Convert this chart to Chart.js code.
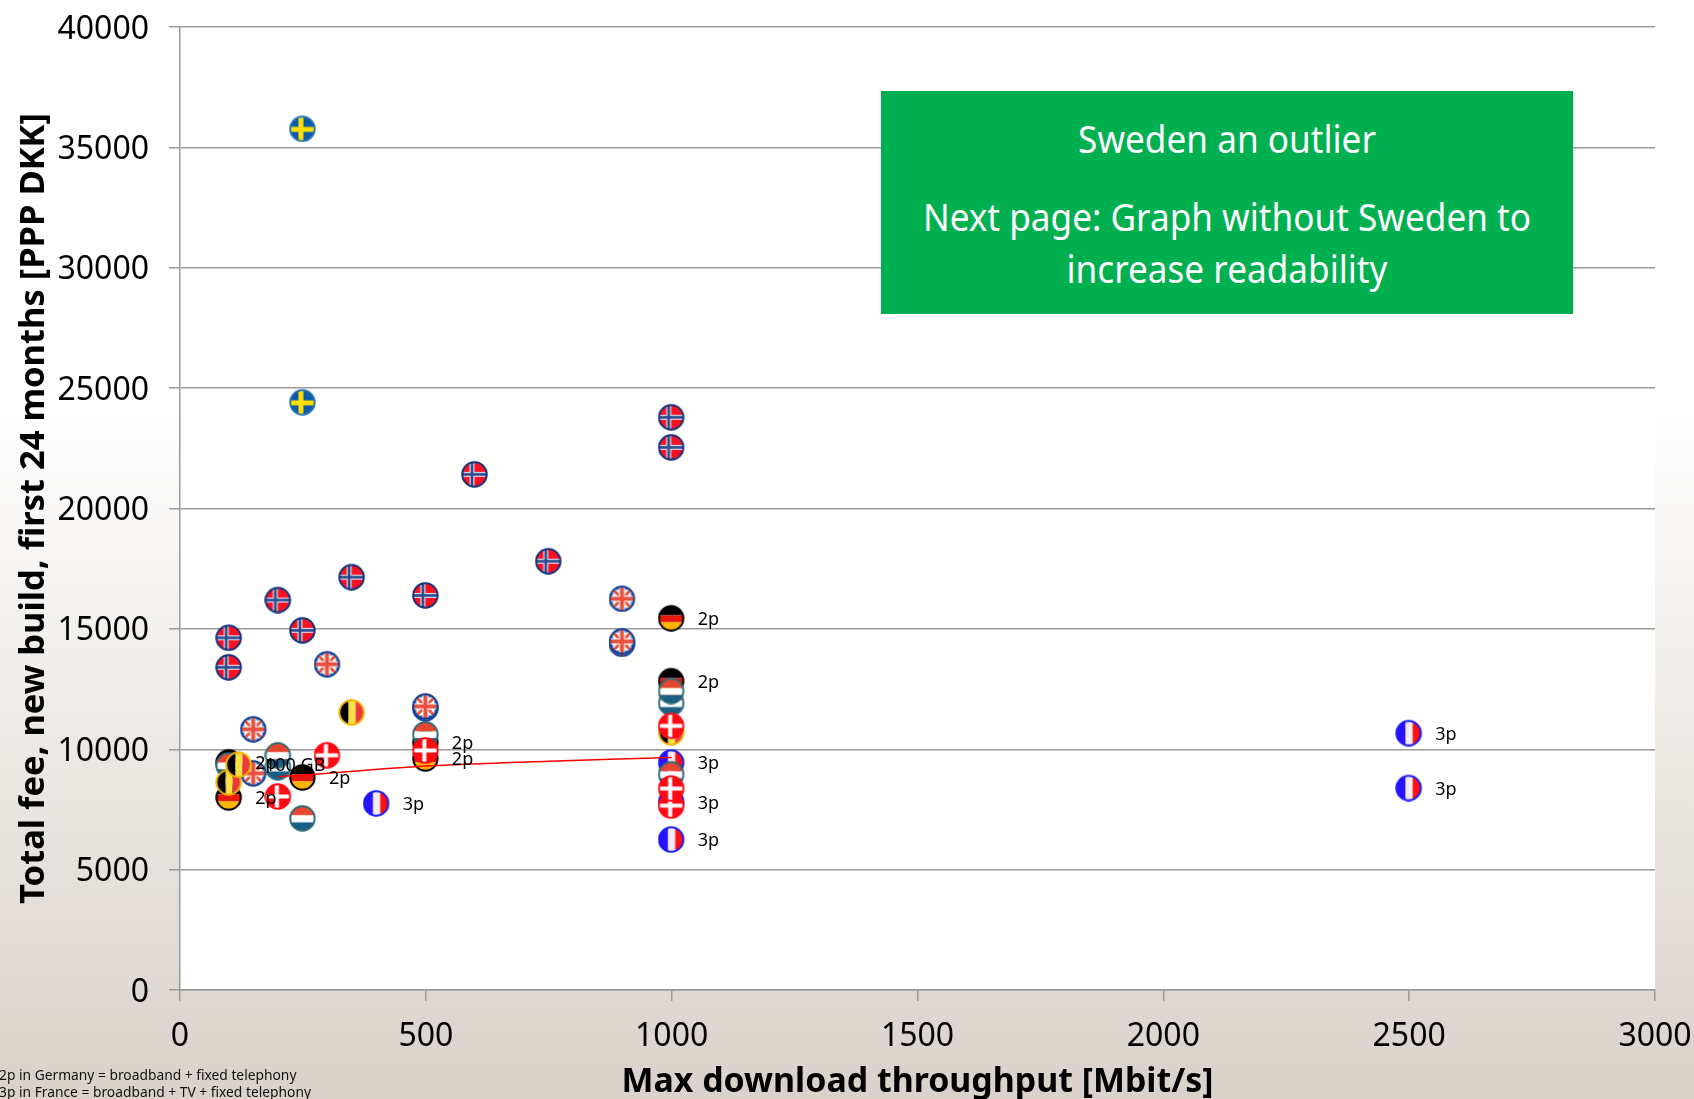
<!DOCTYPE html>
<html><head><meta charset="utf-8">
<script src="https://cdn.jsdelivr.net/npm/chart.js@4"></script>
<style>
html,body{margin:0;padding:0;width:1694px;height:1099px;overflow:hidden}
body{background:linear-gradient(to bottom,#fff 0,#fff 37%,#d9d2ca 100%);position:relative;font-family:"Noto Sans",sans-serif}
#c{position:absolute;left:0;top:0}
#box{position:absolute;left:881px;top:91px;width:692px;height:223px;background:#00b050;color:#fff;text-align:center;font-size:38px}
#box div{position:absolute;left:0;right:0;line-height:52px;white-space:nowrap;transform:scaleX(.925)}
#note{position:absolute;left:-1px;top:1067px;font-size:13.8px;line-height:16.5px;color:#111;white-space:nowrap}
</style></head><body>
<canvas id="c" width="1694" height="1099"></canvas>
<div id="box"><div style="top:21px">Sweden an outlier</div><div style="top:99px">Next page: Graph without Sweden to</div><div style="top:151px">increase readability</div></div>
<div id="note">2p in Germany = broadband + fixed telephony<br>3p in France = broadband + TV + fixed telephony</div>
<script>
const xTickValues=[0,500,1000,1500,2000,2500,3000];
const yTickValues=[0,5000,10000,15000,20000,25000,30000,35000,40000];
const xAxisTitle='Max download throughput [Mbit/s]';
const yAxisTitle='Total fee, new build, first 24 months [PPP DKK]';

const trendX=[200,250,300,500,750,1000];
const trendY=[8860,8930,9000,9300,9500,9660];

const swedenX=[250,250];
const swedenY=[35790,24430];
const norwayX=[100,100,200,250,350,500,600,750,1000,1000];
const norwayY=[14650,13425,16220,14960,17170,16410,21440,17830,23810,22560];
const ukX=[150,150,300,500,500,900,900,900];
const ukY=[10850,9020,13550,11720,11800,16270,14400,14500];
const germanyX=[100,100,250,500,500,1000,1000];
const germanyY=[9480,8020,8850,10300,9640,15460,12850];
const germanyLabels=['2p','2p','2p','2p','2p','2p','2p'];
const belgiumX=[350,1000,100,120];
const belgiumY=[11550,10720,8650,9380];
const belgiumLabels=['','','','100 GB'];
const netherlandsX=[100,200,250,500,1000,1000,1000];
const netherlandsY=[9350,9770,7150,10640,8980,11940,12440];
const netherlandsBackX=[200];
const netherlandsBackY=[9270];
const denmarkX=[200,300,500,1000,1000,1000];
const denmarkY=[8060,9770,9970,10990,7680,8390];
const franceX=[400,1000,1000,1000,2500,2500];
const franceY=[7770,9470,7830,6270,10690,8410];
const franceLabels=['3p','3p','3p','3p','3p','3p'];

function flag(paint,border){
  const s=28,c=document.createElement('canvas');c.width=c.height=s;
  const g=c.getContext('2d');
  g.translate(-0.5,0.5);
  g.save();g.beginPath();g.arc(14,14,12.2,0,Math.PI*2);g.clip();
  paint(g);g.restore();
  g.beginPath();g.arc(14,14,12.2,0,Math.PI*2);
  g.lineWidth=2;g.strokeStyle=border;g.stroke();
  return c;
}
const rect=(g,col,x,y,w,h)=>{g.fillStyle=col;g.fillRect(x,y,w,h)};
const iconSweden=flag(g=>{rect(g,'#0b5aa8',0,0,28,28);rect(g,'#ffe000',0,12,28,5);rect(g,'#ffe000',10,0,5,28)},'#2a74b8');
const iconNorway=flag(g=>{rect(g,'#ff1020',0,0,28,28);rect(g,'#d8dcf0',0,11.5,28,5);rect(g,'#d8dcf0',9,0,5,28);rect(g,'#2b4a8c',0,12.7,28,2.6);rect(g,'#2b4a8c',10.2,0,2.6,28)},'#10307a');
const iconUK=flag(g=>{rect(g,'#fff',0,0,28,28);
  g.fillStyle='#2f64ac';
  [[5,1,7,4],[5,23,7,4],[16,1,7,4],[16,23,7,4],[1,5,4,7],[23,5,4,7],[1,16,4,7],[23,16,4,7]].forEach(r=>g.fillRect(...r));
  g.strokeStyle='#e8513f';g.lineWidth=3;g.beginPath();g.moveTo(2,2);g.lineTo(26,26);g.moveTo(26,2);g.lineTo(2,26);g.stroke();
  rect(g,'#fff',0,11,28,6);rect(g,'#fff',11,0,6,28);rect(g,'#e8513f',0,12,28,4);rect(g,'#e8513f',12,0,4,28)},'#123f99');
const iconGermany=flag(g=>{rect(g,'#000',0,0,28,11);rect(g,'#e8180c',0,11,28,7);rect(g,'#ffb400',0,18,28,10)},'#000');
const iconBelgium=flag(g=>{rect(g,'#000',0,0,11,28);rect(g,'#fbe044',11,0,7,28);rect(g,'#e83a3f',18,0,10,28)},'#f5b400');
const iconNetherlands=flag(g=>{rect(g,'#e8452f',0,0,28,11);rect(g,'#fff',0,11,28,7);rect(g,'#1a5f85',0,18,28,10)},'#2e6b78');
const iconDenmark=flag(g=>{rect(g,'#ff0a14',0,0,28,28);rect(g,'#fff',0,12,28,4);rect(g,'#fff',11,0,4,28)},'#ff0a14');
const iconFrance=flag(g=>{rect(g,'#2a10ff',0,0,11,28);rect(g,'#f2ecf6',11,0,7,28);rect(g,'#ff1010',18,0,10,28)},'#1a1aff');

const pts=(xs,ys)=>xs.map((x,i)=>({x,y:ys[i]}));
const set=(name,xs,ys,icon,labels)=>({label:name,data:pts(xs,ys),pointStyle:icon,pointRadius:13,showLine:false,pointLabels:labels});

const paperPlugin={id:'paper',beforeDraw(ch){const a=ch.chartArea,x=ch.ctx;x.save();x.fillStyle='#fff';x.fillRect(a.left,a.top,a.width,a.height);x.restore();}};
const labelPlugin={id:'pointText',afterDatasetsDraw(ch){
  const x=ch.ctx,sx=ch.scales.x,sy=ch.scales.y;
  x.save();x.font='18px "Noto Sans"';x.fillStyle='#000';x.textBaseline='middle';x.textAlign='left';
  ch.data.datasets.forEach(d=>{(d.pointLabels||[]).forEach((t,i)=>{
    if(t)x.fillText(t,sx.getPixelForValue(d.data[i].x)+26,sy.getPixelForValue(d.data[i].y)+2);
  });});
  x.restore();}};
const noPad=s=>{s.paddingLeft=s.paddingRight=s.paddingTop=s.paddingBottom=0};
const plain=v=>String(v);

new Chart(document.getElementById('c'),{
  type:'scatter',
  data:{datasets:[
    {label:'Trend',data:pts(trendX,trendY),showLine:true,borderColor:'#ff0000',borderWidth:1.5,pointRadius:0,tension:0.3,fill:false},
    set('Denmark',denmarkX,denmarkY,iconDenmark),
    set('Belgium',belgiumX,belgiumY,iconBelgium,belgiumLabels),
    set('Netherlands',netherlandsX,netherlandsY,iconNetherlands),
    set('Germany',germanyX,germanyY,iconGermany,germanyLabels),
    set('Netherlands (2)',netherlandsBackX,netherlandsBackY,iconNetherlands),
    set('UK',ukX,ukY,iconUK),
    set('France',franceX,franceY,iconFrance,franceLabels),
    set('Norway',norwayX,norwayY,iconNorway),
    set('Sweden',swedenX,swedenY,iconSweden)
  ]},
  plugins:[paperPlugin,labelPlugin],
  options:{
    responsive:false,animation:false,
    layout:{padding:{left:0,right:39,top:27,bottom:0}},
    plugins:{legend:{display:false},tooltip:{enabled:false}},
    scales:{
      x:{type:'linear',min:0,max:3000,
        afterFit:s=>{s.height=109;noPad(s)},
        afterBuildTicks:s=>{s.ticks=xTickValues.map(v=>({value:v}))},
        border:{display:true,color:'#9a9a9a',width:1.5},
        grid:{drawOnChartArea:false,drawTicks:true,tickLength:11,tickColor:'#9a9a9a',lineWidth:1.5},
        ticks:{color:'#000',font:{family:'"Noto Sans"',size:32},padding:17,maxRotation:0,autoSkip:false,callback:plain},
        title:{display:true,text:xAxisTitle,color:'#000',font:{family:'"Noto Sans"',weight:'bold',size:33.9},padding:{top:0,bottom:-4}}
      },
      y:{type:'linear',min:0,max:40000,
        afterFit:s=>{s.width=180;noPad(s)},
        afterBuildTicks:s=>{s.ticks=yTickValues.map(v=>({value:v}))},
        border:{display:true,color:'#9a9a9a',width:1.5},
        grid:{drawOnChartArea:true,drawTicks:true,tickLength:11,color:'#9a9a9a',tickColor:'#9a9a9a',lineWidth:1.5},
        ticks:{color:'#000',font:{family:'"Noto Sans"',size:32},padding:20,labelOffset:2.5,autoSkip:false,callback:plain},
        title:{display:true,text:yAxisTitle,color:'#000',font:{family:'"Noto Sans"',weight:'bold',size:34.5},padding:{top:13,bottom:0}}
      }
    }
  }
});
</script>
</body></html>
